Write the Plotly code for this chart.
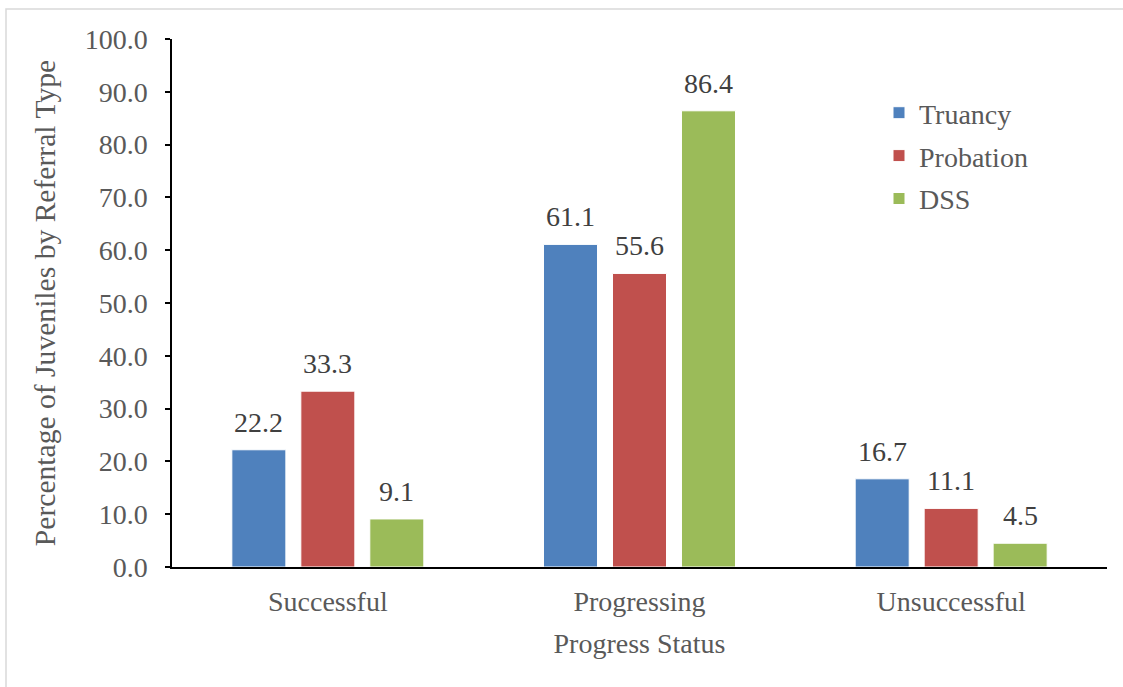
import plotly.graph_objects as go

categories = ["Successful", "Progressing", "Unsuccessful"]
series_names = ["Truancy", "Probation", "DSS"]
truancy = [22.2, 61.1, 16.7]
probation = [33.3, 55.6, 11.1]
dss = [9.1, 86.4, 4.5]
colors = ["#4F81BD", "#C0504D", "#9BBB59"]
y_ticks = [0, 10, 20, 30, 40, 50, 60, 70, 80, 90, 100]

FONT = "Times New Roman, Liberation Serif, Tinos, DejaVu Serif, serif"
W, H = 1123, 687
ML, MR, MT, MB = 172, 16, 39, 120
PW = W - ML - MR
PH = H - MT - MB

fig = go.Figure()
all_series = [truancy, probation, dss]
for i, (name, vals) in enumerate(zip(series_names, all_series)):
    fig.add_trace(go.Bar(
        x=categories, y=vals, name=name,
        marker=dict(color=colors[i], line=dict(color="white", width=1)),
        legendgroup=name,
    ))

pitch = 69
for i, vals in enumerate(all_series):
    for c, v in zip(categories, vals):
        fig.add_annotation(
            x=c, y=v, xref="x", yref="y", text=f"{v:.1f}", showarrow=False,
            yanchor="bottom", xanchor="center", xshift=(i - 1) * pitch, yshift=10,
            font=dict(family=FONT, size=28, color="#404040"),
        )

# outer light border
fig.add_shape(type="rect", xref="paper", yref="paper",
              x0=(6 - ML) / PW, x1=(1135 - ML) / PW,
              y0=(H - MB - 700) / PH, y1=(H - MB - 9) / PH,
              line=dict(color="#D9D9D9", width=1.5), fillcolor="rgba(0,0,0,0)", layer="below")

fig.update_layout(
    width=W, height=H,
    margin=dict(l=ML, r=MR, t=MT, b=MB),
    paper_bgcolor="white", plot_bgcolor="white",
    font=dict(family=FONT, size=28, color="#595959"),
    barmode="group", bargap=0.336, bargroupgap=0.217,
    showlegend=True,
    legend=dict(x=(879 - ML) / PW, y=(H - MB - 88) / PH, xanchor="left", yanchor="top",
                traceorder="grouped", tracegroupgap=3.5,
                bgcolor="rgba(0,0,0,0)", font=dict(family=FONT, size=28, color="#595959")),
    xaxis=dict(showline=True, linecolor="black", linewidth=1.5, ticks="",
               showgrid=False, ticklabelstandoff=9,
               title=dict(text="Progress Status", standoff=17,
                          font=dict(family=FONT, size=28, color="#595959"))),
    yaxis=dict(range=[0, 100], tickvals=y_ticks, tickformat=".1f", showline=True,
               linecolor="black", linewidth=1.5, ticks="outside", ticklen=5,
               tickcolor="black", tickwidth=1.5, showgrid=False, zeroline=False,
               ticklabelstandoff=12,
               title=dict(text="Percentage of Juveniles by Referral Type", standoff=20,
                          font=dict(family=FONT, size=29.6, color="#595959"))),
)

fig.write_html("out.html")
